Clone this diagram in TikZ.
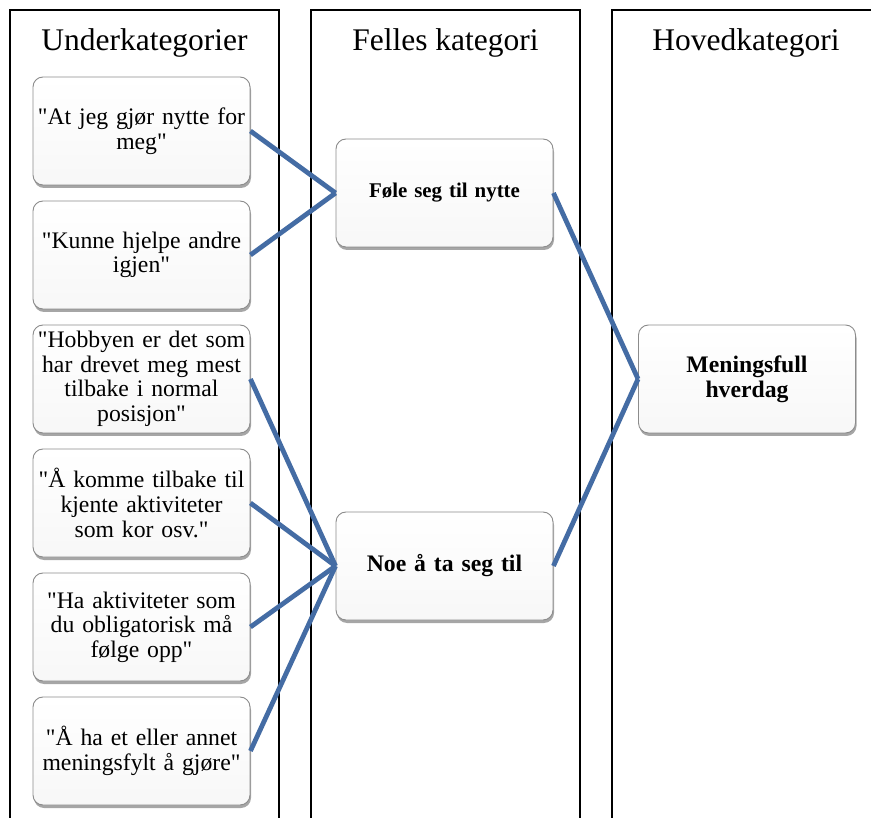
\documentclass[tikz,border=0pt]{standalone}
\usepackage{fontspec}
\setmainfont[Ligatures=TeXOff]{Liberation Serif}
\usetikzlibrary{shadows}
\definecolor{linkblue}{RGB}{68,108,164}
\definecolor{boxborder}{RGB}{140,140,140}
\tikzset{
  column/.style={draw=black, line width=1.6pt},
  coltitle/.style={anchor=base, font=\fontsize{31.5}{34}\selectfont},
  card/.style={draw=boxborder, line width=0.9pt, rounded corners=10pt,
    top color=white, bottom color=black!3,
    minimum width=217pt, minimum height=108pt, inner sep=4pt,
    align=center, text width=209pt,
    drop shadow={shadow xshift=1pt, shadow yshift=-3pt, opacity=0.35, fill=black}},
  subcard/.style={card, font=\fontsize{23.7}{24.6}\selectfont},
  maincard/.style={card, font=\bfseries\fontsize{23.7}{25}\selectfont},
  smallcard/.style={card, font=\bfseries\fontsize{20.9}{23}\selectfont},
  link/.style={draw=linkblue, line width=4.8pt}
}
\begin{document}
\begin{tikzpicture}[x=1pt, y=-1pt]
  \useasboundingbox (0,0) rectangle (871,818);
  \clip (0,0) rectangle (871,818);
  \fill[white] (0,0) rectangle (871,818);
  % columns
  \draw[column] (10,830) -- (10,10) -- (279,10) -- (279,830);
  \draw[column] (311,830) -- (311,10) -- (580,10) -- (580,830);
  \draw[column] (612,830) -- (612,10) -- (900,10);
  % titles
  \node[coltitle] (t1) at (144.5,51) {Underkategorier};
  \node[coltitle] (t2) at (445.5,51) {Felles kategori};
  \node[coltitle] (t3) at (746,51) {Hovedkategori};
  % sub category boxes
  \node[subcard] (b1) at (141.5,131) {"At jeg gjør nytte for\\ meg"};
  \node[subcard] (b2) at (141.5,255) {"Kunne hjelpe andre\\ igjen"};
  \node[subcard] (b3) at (141.5,379) {"Hobbyen er det som\\ har drevet meg mest\\ tilbake i normal\\ posisjon"};
  \node[subcard] (b4) at (141.5,503) {"Å komme tilbake til\\ kjente aktiviteter\\ som kor osv."};
  \node[subcard] (b5) at (141.5,627) {"Ha aktiviteter som\\ du obligatorisk må\\ følge opp"};
  \node[subcard] (b6) at (141.5,751) {"Å ha et eller annet\\ meningsfylt å gjøre"};
  % common category boxes
  \node[smallcard] (f1) at (444.5,193) {Føle seg til nytte};
  \node[maincard] (f2) at (444.5,566) {Noe å ta seg til};
  % main category
  \node[maincard] (m1) at (747,379) {Meningsfull\\ hverdag};
  % connectors
  \draw[link] (b1.east) -- (f1.west);
  \draw[link] (b2.east) -- (f1.west);
  \draw[link] (b3.east) -- (f2.west);
  \draw[link] (b4.east) -- (f2.west);
  \draw[link] (b5.east) -- (f2.west);
  \draw[link] (b6.east) -- (f2.west);
  \draw[link] (f1.east) -- (m1.west);
  \draw[link] (f2.east) -- (m1.west);
\end{tikzpicture}
\end{document}
